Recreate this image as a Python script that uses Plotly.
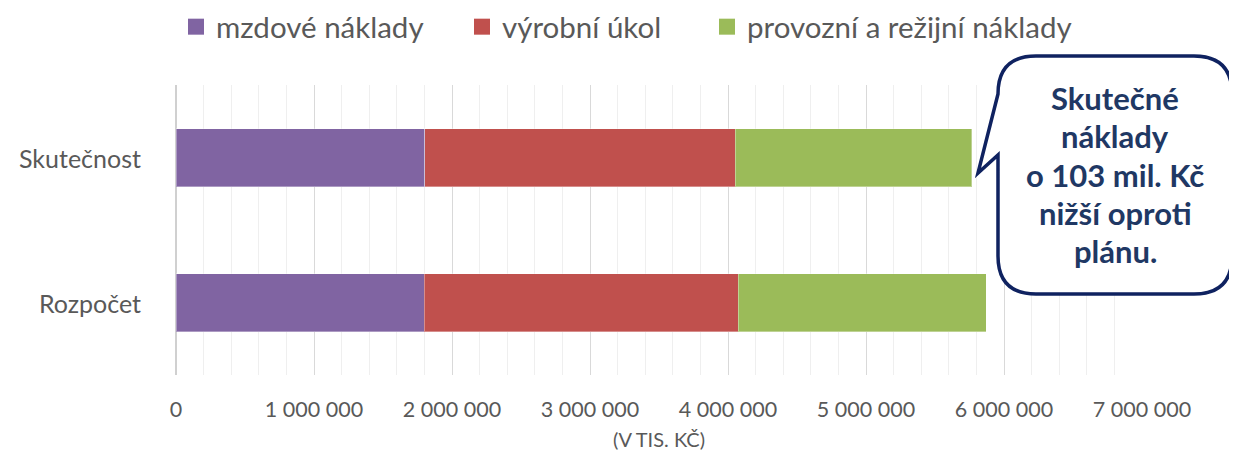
import plotly.graph_objects as go

categories = ["Skutečnost", "Rozpočet"]
series_names = ["mzdové náklady", "výrobní úkol", "provozní a režijní náklady"]
mzdove = [1804000, 1800000]
vyrobni = [2248000, 2276000]
provozni = [1716000, 1795000]
colors = ["#8064A2", "#C0504D", "#9BBB59"]
tick_vals = [0, 1000000, 2000000, 3000000, 4000000, 5000000, 6000000, 7000000]
tick_text = ["0", "1 000 000", "2 000 000", "3 000 000", "4 000 000", "5 000 000", "6 000 000", "7 000 000"]
axis_title = "(V TIS. KČ)"
callout_lines = ["Skutečné", "náklady", "o 103 mil. Kč", "nižší oproti", "plánu."]

# page body has an 8px margin: compensate so that the picture lines up with the reference
OFF = 8
W, H = 1237 - OFF, 455 - OFF
ML, MR, MT, MB = 176 - OFF, 95, 85 - OFF, 80
PW, PH = W - ML - MR, H - MT - MB

def X(px):  # reference pixel -> paper
    return (px - OFF - ML) / PW

def Y(py):
    return (H - MB - (py - OFF)) / PH

FONT = "Lato"
GREY = "#595959"
legend_names = ["legend", "legend2", "legend3"]
legend_px = [188, 474, 719]

fig = go.Figure()
for name, vals, col, lg in zip(series_names, [mzdove, vyrobni, provozni], colors, legend_names):
    fig.add_trace(go.Bar(
        y=categories, x=vals, name=name, orientation="h", showlegend=False,
        legendgroup=name,
        marker=dict(color=col, line=dict(width=1, color="rgba(255,255,255,0.35)")),
    ))
    fig.add_trace(go.Scatter(
        x=[None], y=[None], name=name, mode="markers", legend=lg, legendgroup=name,
        marker=dict(symbol="square", size=18, color=col),
    ))

legend_common = dict(orientation="h", xanchor="left", yanchor="middle", y=Y(27),
                     font=dict(family=FONT, size=29.5, color=GREY), bgcolor="rgba(0,0,0,0)",
                     itemwidth=30)
legends = {}
for lg, px in zip(legend_names, legend_px):
    legends[lg] = dict(legend_common, x=X(px - 12))

# category labels
annotations = []
for c in categories:
    annotations.append(dict(x=X(143), xref="paper", y=c, yref="y", text=c, showarrow=False,
                            xanchor="right", yanchor="middle",
                            font=dict(family=FONT, size=25, color=GREY)))

# callout bubble
L, R, T, B, r = 998, 1232, 56, 294, 38
pts = [
    ("M", (L, T + r)), ("Q", (L, T), (L + r, T)), ("L", (R - r, T)),
    ("Q", (R, T), (R, T + r)), ("L", (R, B - r)), ("Q", (R, B), (R - r, B)),
    ("L", (L + r, B)), ("Q", (L, B), (L, B - r)), ("L", (L, 155)), ("L", (978, 173)),
]
path = ""
for seg in pts:
    cmd = seg[0]
    coords = " ".join(f"{X(p[0]):.5f},{Y(p[1]):.5f}" for p in seg[1:])
    path += f"{cmd} {coords} "
path += "Z"
shapes = [dict(type="path", xref="paper", yref="paper", path=path,
               line=dict(color="#0F2260", width=3.5), fillcolor="white", layer="above")]

cx = (L + R) / 2
for i, line in enumerate(callout_lines):
    annotations.append(dict(x=X(cx), y=Y(98 + 38.25 * i), xref="paper", yref="paper",
                            text=f"<b>{line}</b>", showarrow=False, xanchor="center", yanchor="middle",
                            font=dict(family=FONT, size=31, color="#1F3864")))

fig.update_layout(
    width=W, height=H, barmode="stack", bargap=0.6,
    margin=dict(l=ML, r=MR, t=MT, b=MB, autoexpand=False),
    plot_bgcolor="white", paper_bgcolor="white",
    font=dict(family=FONT, color=GREY),
    showlegend=True,
    xaxis=dict(range=[0, 7000000], tickvals=tick_vals, ticktext=tick_text,
               tickfont=dict(family=FONT, size=21.5, color=GREY),
               showgrid=True, gridcolor="#D9D9D9", gridwidth=1.3,
               zeroline=True, zerolinecolor="#D0D0D0", zerolinewidth=2,
               minor=dict(dtick=200000, showgrid=True, gridcolor="#EFEFEF", gridwidth=1.3),
               ticklabelstandoff=19,
               title=dict(text=axis_title, font=dict(family=FONT, size=20, color=GREY), standoff=12),
               fixedrange=True),
    yaxis=dict(autorange="reversed", showticklabels=False, showgrid=False, zeroline=False),
    annotations=annotations, shapes=shapes,
    **legends,
)
fig.write_html("out.html")
